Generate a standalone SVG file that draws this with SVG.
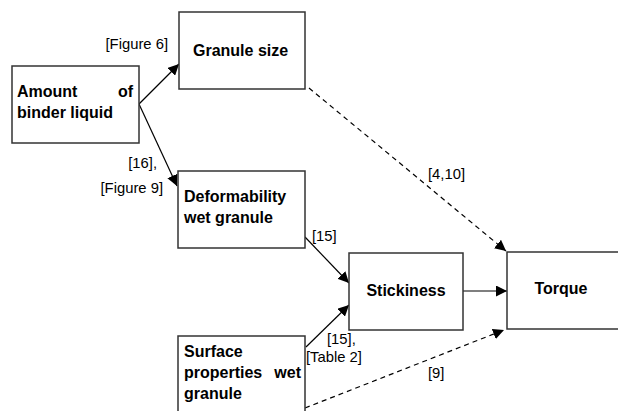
<svg xmlns="http://www.w3.org/2000/svg" width="618" height="411" viewBox="0 0 618 411">
<style>
.box{fill:#fff;stroke:#333;stroke-width:1.5}
.nt{font-family:"Liberation Sans",Arial,sans-serif;font-size:16px;font-weight:bold;fill:#000}
.lb{font-family:"Liberation Sans",Arial,sans-serif;font-size:14.8px;fill:#000}
.ln{stroke:#000;stroke-width:1.2;fill:none}
.ds{stroke:#000;stroke-width:1.2;fill:none;stroke-dasharray:5,4}
</style>
<defs>
<marker id="ah" viewBox="0 0 10 10" refX="10" refY="5" markerWidth="11" markerHeight="11" markerUnits="userSpaceOnUse" orient="auto">
<path d="M0,0 L10,5 L0,10 z" fill="#000"/>
</marker>
</defs>
<rect width="618" height="411" fill="#fff"/>
<g id="connectors">
<line class="ln" x1="139" y1="104" x2="179" y2="64" marker-end="url(#ah)"/>
<line class="ln" x1="139" y1="104" x2="177" y2="186" marker-end="url(#ah)"/>
<line class="ln" x1="305" y1="237" x2="349" y2="283" marker-end="url(#ah)"/>
<line class="ln" x1="306" y1="347" x2="349" y2="305" marker-end="url(#ah)"/>
<line class="ln" x1="463" y1="291" x2="507" y2="291" marker-end="url(#ah)"/>
<line class="ds" x1="309" y1="88" x2="506" y2="251" marker-end="url(#ah)"/>
<line class="ds" x1="305" y1="408" x2="504" y2="330" marker-end="url(#ah)"/>
<text class="lb" x="168" y="49" text-anchor="end">[Figure 6]</text>
<text class="lb" x="157" y="168" text-anchor="end">[16],</text>
<text class="lb" x="163" y="193" text-anchor="end">[Figure 9]</text>
<text class="lb" x="312" y="241">[15]</text>
<text class="lb" x="327" y="344">[15],</text>
<text class="lb" x="306" y="362">[Table 2]</text>
<text class="lb" x="428" y="378">[9]</text>
<text class="lb" x="428" y="179">[4,10]</text>
</g>
<g id="amount">
<rect class="box" x="12" y="66" width="127" height="77"/>
<text class="nt" x="17" y="97">Amount</text>
<text class="nt" x="133" y="97" text-anchor="end">of</text>
<text class="nt" x="17" y="118">binder liquid</text>
</g>
<g id="granule-size">
<rect class="box" x="179" y="12" width="126" height="77"/>
<text class="nt" x="193" y="56">Granule size</text>
</g>
<g id="deformability">
<rect class="box" x="178" y="171" width="127" height="77"/>
<text class="nt" x="184" y="202">Deformability</text>
<text class="nt" x="184" y="223">wet granule</text>
</g>
<g id="surface">
<rect class="box" x="178" y="336" width="127" height="90"/>
<text class="nt" x="184" y="357">Surface</text>
<text class="nt" x="184" y="378">properties</text>
<text class="nt" x="301" y="378" text-anchor="end">wet</text>
<text class="nt" x="184" y="399">granule</text>
</g>
<g id="stickiness">
<rect class="box" x="349" y="253" width="114" height="77"/>
<text class="nt" x="406" y="296" text-anchor="middle">Stickiness</text>
</g>
<g id="torque">
<rect class="box" x="507" y="252" width="120" height="77"/>
<text class="nt" x="561" y="294" text-anchor="middle">Torque</text>
</g>
</svg>
